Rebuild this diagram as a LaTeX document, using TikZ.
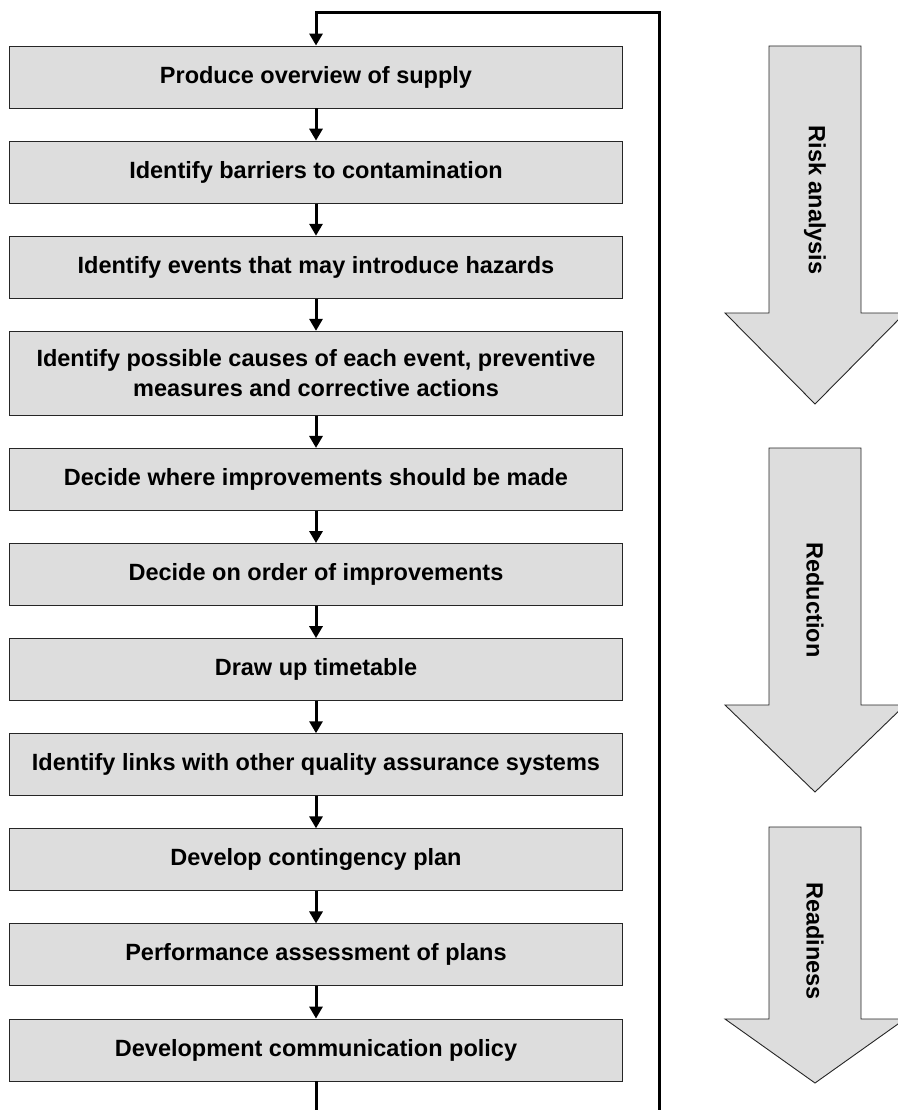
\documentclass[tikz,border=0pt]{standalone}
\usepackage{fontspec}
\setmainfont{Liberation Sans}
\usepackage{tikz}
\usetikzlibrary{positioning,arrows.meta}
\definecolor{boxgray}{HTML}{DDDDDD}

\begin{document}
\begin{tikzpicture}[x=1pt, y=-1pt, node distance=32.2pt,
        	stepbox/.style={draw=black!85, fill=boxgray, line width=0.9pt, minimum width=613pt,
        		minimum height=62pt, align=center, font=\fontsize{23.5}{30.5}\selectfont\bfseries},
        	flow/.style={line width=3pt, -{Triangle[width=13pt,length=12pt]}},
        	bigarrow/.style={draw=black!85, fill=boxgray, line width=0.9pt},
        	phase/.style={rotate=-90, font=\fontsize{23.5}{28}\selectfont\bfseries}]
            \useasboundingbox (0,0) rectangle (897,1110);
            % steps
            \node[stepbox] (b1) at (316,77) {Produce overview of supply};
            \node[stepbox, below=of b1] (b2) {Identify barriers to contamination};
            \node[stepbox, below=of b2] (b3) {Identify events that may introduce hazards};
            \node[stepbox, below=of b3, minimum height=84pt] (b4) {Identify possible causes of each event, preventive\\measures and corrective actions};
            \node[stepbox, below=of b4] (b5) {Decide where improvements should be made};
            \node[stepbox, below=of b5] (b6) {Decide on order of improvements};
            \node[stepbox, below=of b6] (b7) {Draw up timetable};
            \node[stepbox, below=of b7] (b8) {Identify links with other quality assurance systems};
            \node[stepbox, below=of b8] (b9) {Develop contingency plan};
            \node[stepbox, below=of b9] (b10) {Performance assessment of plans};
            \node[stepbox, below=of b10] (b11) {Development communication policy};
            \foreach \a/\b in {b1/b2, b2/b3, b3/b4, b4/b5, b5/b6, b6/b7, b7/b8, b8/b9, b9/b10, b10/b11}
            	\draw[flow] (\a) -- (\b);
            % feedback loop
            \coordinate (loopright) at (659,1110);
            \coordinate (looptop) at (659,13);
            \coordinate (loopend) at (b11.south |- loopright);
            \draw[line width=3pt] (b11) -- (loopend);
            \draw[flow] (loopright) -- (looptop) -| (b1.north);
            % phases
            \filldraw[bigarrow] (769,46) -- (861,46) -- (861,313) -- (905,313) -- (815,404) -- (725,313) -- (769,313) -- cycle;
            \filldraw[bigarrow] (769,448) -- (861,448) -- (861,705) -- (905,705) -- (815,792) -- (725,705) -- (769,705) -- cycle;
            \filldraw[bigarrow] (769,827) -- (861,827) -- (861,1019) -- (905,1019) -- (815,1083) -- (725,1019) -- (769,1019) -- cycle;
            \node[phase] (risk) at (815,200) {Risk analysis};
            \node[phase] (reduction) at (815,600) {Reduction};
            \node[phase] (readiness) at (815,941) {Readiness};
        \end{tikzpicture}
\end{document}
